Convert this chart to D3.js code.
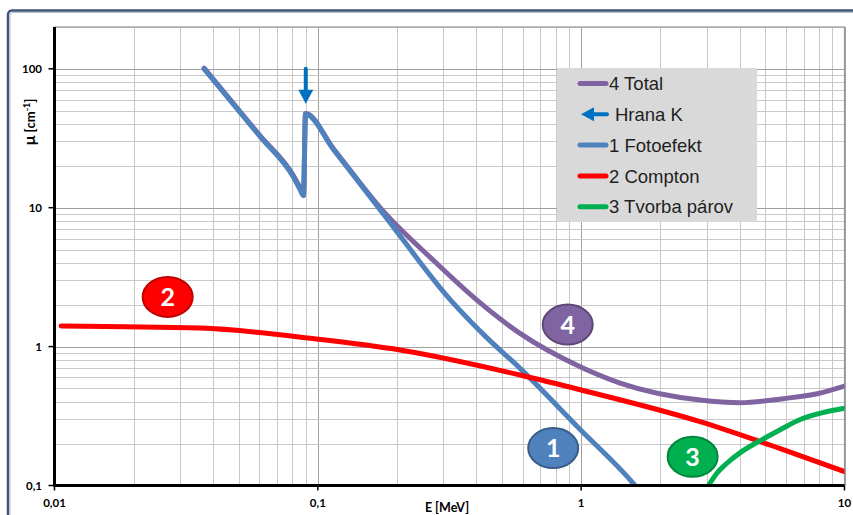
<!DOCTYPE html>
<html>
<head>
<meta charset="utf-8">
<script src="https://cdn.jsdelivr.net/npm/d3@7/dist/d3.min.js"></script>
<style>
  body { margin: 0; background: #fff; }
  svg { display: block; }
</style>
</head>
<body>
<svg id="chart" width="853" height="515"></svg>
<script>
// Attenuation coefficients of lead, μ [cm⁻¹] versus photon energy E [MeV]
const energyTotal = [0.037, 0.0604, 0.0808, 0.0855, 0.0882, 0.0898, 0.1146, 0.1774, 0.275, 0.402, 0.586, 0.991, 1.406, 2.83, 4.01, 5.85, 7.87, 10];
const muTotal     = [101, 32.9, 17.0, 14.0, 12.5, 47.6, 26.6, 9.4, 4.17, 2.16, 1.244, 0.716, 0.546, 0.412, 0.394, 0.422, 0.458, 0.52];

const energyKEdge = [0.09, 0.09];
const muKEdge     = [100, 56];

const energyPhoto = [0.037, 0.0604, 0.0808, 0.0855, 0.0882, 0.0898, 0.1146, 0.1774, 0.318, 0.432, 0.586, 1.0, 1.535, 1.6];
const muPhoto     = [100, 32.5, 16.6, 13.6, 12.2, 47.3, 26.3, 9.03, 2.18, 1.19, 0.697, 0.249, 0.1096, 0.1];

const energyCompton = [0.0106, 0.0357, 0.1, 0.2053, 0.586, 1.0, 2.83, 5.67, 10];
const muCompton     = [1.41, 1.36, 1.13, 0.944, 0.624, 0.487, 0.288, 0.185, 0.126];

const energyPair = [3.044, 3.277, 3.576, 4.018, 4.784, 5.70, 6.79, 8.32, 10];
const muPair     = [0.1, 0.1226, 0.1446, 0.1724, 0.2103, 0.2522, 0.2987, 0.3354, 0.3594];

const xTickValues = [0.01, 0.1, 1, 10];
const xTickLabels = ["0,01", "0,1", "1", "10"];
const yTickValues = [0.1, 1, 10, 100];
const yTickLabels = ["0,1", "1", "10", "100"];

const legendLabels = ["4 Total", "Hrana K", "1 Fotoefekt", "2 Compton", "3 Tvorba párov"];
const bubbleLabels = ["2", "4", "1", "3"];

// ---- layout ----
const svg = d3.select("#chart");
const plot = { left: 54.5, right: 844.5, top: 27, bottom: 485.5 };

const x = d3.scaleLog().domain([0.01, 10]).range([plot.left, plot.right]);
const y = d3.scaleLog().domain([0.1, 200]).range([plot.bottom, plot.top]);

const colors = {
  total: "#8064a2",
  kedge: "#0070c0",
  photo: "#4f81bd",
  compton: "#ff0000",
  pair: "#00b050"
};

// outer chart frame
svg.append("rect")
  .attr("x", 8).attr("y", 10.5).attr("width", 900).attr("height", 600).attr("rx", 4)
  .attr("fill", "#fff").attr("stroke", "#3f5573").attr("stroke-width", 2.5);
svg.append("rect")
  .attr("x", 10).attr("y", 12.5).attr("width", 900).attr("height", 600).attr("rx", 3)
  .attr("fill", "none").attr("stroke", "#b4bfcc").attr("stroke-width", 1);

// gridlines (major and minor on both log axes)
function logSteps(lo, hi) {
  const out = [];
  for (let e = Math.floor(Math.log10(lo)); e <= Math.ceil(Math.log10(hi)); e++) {
    for (let m = 1; m <= 9; m++) {
      const v = m * Math.pow(10, e);
      if (v >= lo * 0.999 && v <= hi * 1.001) out.push({ v, major: m === 1 });
    }
  }
  return out;
}
const grid = svg.append("g");
logSteps(0.01, 10).forEach(t => {
  grid.append("line")
    .attr("x1", Math.round(x(t.v)) + 0.5).attr("x2", Math.round(x(t.v)) + 0.5)
    .attr("y1", plot.top).attr("y2", plot.bottom)
    .attr("stroke", t.major ? "#a0a0a0" : "#c9c9c9").attr("stroke-width", 1);
});
logSteps(0.1, 200).forEach(t => {
  grid.append("line")
    .attr("y1", Math.round(y(t.v)) + 0.5).attr("y2", Math.round(y(t.v)) + 0.5)
    .attr("x1", plot.left).attr("x2", plot.right)
    .attr("stroke", t.major ? "#a0a0a0" : "#c9c9c9").attr("stroke-width", 1);
});
// plot area border
svg.append("rect")
  .attr("x", plot.left).attr("y", plot.top)
  .attr("width", plot.right - plot.left).attr("height", plot.bottom - plot.top)
  .attr("fill", "none").attr("stroke", "#9a9a9a").attr("stroke-width", 1.2);

// clip for series
svg.append("defs").append("clipPath").attr("id", "plotClip")
  .append("rect")
  .attr("x", plot.left).attr("y", plot.top - 10)
  .attr("width", plot.right - plot.left).attr("height", plot.bottom - plot.top + 10);

const line = d3.line()
  .x(d => x(d[0]))
  .y(d => y(d[1]))
  .curve(d3.curveMonotoneX);

const series = svg.append("g").attr("clip-path", "url(#plotClip)");
function drawSeries(es, ms, color) {
  series.append("path")
    .datum(d3.zip(es, ms))
    .attr("d", line)
    .attr("fill", "none")
    .attr("stroke", color)
    .attr("stroke-width", 5)
    .attr("stroke-linecap", "round")
    .attr("stroke-linejoin", "round");
}
drawSeries(energyTotal, muTotal, colors.total);

// K-edge arrow
(function () {
  const ax = x(energyKEdge[0]);
  const yTop = y(muKEdge[0]);
  const yTip = y(muKEdge[1]);
  const headLen = 14, headHalf = 7.5;
  series.append("line")
    .attr("x1", ax).attr("x2", ax)
    .attr("y1", yTop).attr("y2", yTip - headLen + 1)
    .attr("stroke", colors.kedge).attr("stroke-width", 4).attr("stroke-linecap", "round");
  series.append("path")
    .attr("d", `M${ax - headHalf},${yTip - headLen} L${ax + headHalf},${yTip - headLen} L${ax},${yTip} Z`)
    .attr("fill", colors.kedge);
})();

drawSeries(energyPhoto, muPhoto, colors.photo);
drawSeries(energyCompton, muCompton, colors.compton);
drawSeries(energyPair, muPair, colors.pair);

// axes
const axisFont = "Lato, 'Open Sans', sans-serif";
svg.append("line")
  .attr("x1", plot.left).attr("x2", plot.left)
  .attr("y1", plot.top).attr("y2", plot.bottom + 1.5)
  .attr("stroke", "#000").attr("stroke-width", 3);
svg.append("line")
  .attr("x1", plot.left - 1.5).attr("x2", plot.right)
  .attr("y1", plot.bottom).attr("y2", plot.bottom)
  .attr("stroke", "#000").attr("stroke-width", 3);

yTickValues.forEach((v, i) => {
  const py = y(v);
  svg.append("line")
    .attr("x1", plot.left - 6).attr("x2", plot.left)
    .attr("y1", py).attr("y2", py)
    .attr("stroke", "#000").attr("stroke-width", 1.5);
  svg.append("text")
    .attr("x", 42).attr("y", py).attr("dy", "0.36em")
    .attr("text-anchor", "end")
    .attr("font-family", axisFont).attr("font-weight", "bold").attr("font-size", 11.5)
    .attr("fill", "#000")
    .text(yTickLabels[i]);
});
xTickValues.forEach((v, i) => {
  const px = x(v);
  svg.append("line")
    .attr("x1", px).attr("x2", px)
    .attr("y1", plot.bottom).attr("y2", plot.bottom + 5)
    .attr("stroke", "#000").attr("stroke-width", 1.5);
  svg.append("text")
    .attr("x", px).attr("y", 507)
    .attr("text-anchor", "middle")
    .attr("font-family", axisFont).attr("font-weight", "bold").attr("font-size", 11.5)
    .attr("fill", "#000")
    .text(xTickLabels[i]);
});

// axis titles
svg.append("text")
  .attr("x", 447).attr("y", 512)
  .attr("text-anchor", "middle")
  .attr("font-family", axisFont).attr("font-weight", "bold").attr("font-size", 12.5)
  .text("E [MeV]");

const yTitle = svg.append("text")
  .attr("transform", "translate(35,122) rotate(-90)")
  .attr("text-anchor", "middle")
  .attr("font-family", axisFont).attr("font-weight", "bold").attr("font-size", 13);
yTitle.append("tspan").attr("font-size", 16).text("μ");
yTitle.append("tspan").text("  [cm");
yTitle.append("tspan").attr("font-size", 9).attr("dy", -5).text("-1");
yTitle.append("tspan").attr("dy", 5).text("]");

// legend
const legend = svg.append("g");
legend.append("rect")
  .attr("x", 557).attr("y", 68).attr("width", 200).attr("height", 154)
  .attr("fill", "#d9d9d9");
const legendColors = [colors.total, colors.kedge, colors.photo, colors.compton, colors.pair];
legendLabels.forEach((label, i) => {
  const ly = 83.5 + i * 30.8;
  if (i === 1) {
    legend.append("line")
      .attr("x1", 607).attr("x2", 592).attr("y1", ly).attr("y2", ly)
      .attr("stroke", legendColors[i]).attr("stroke-width", 4).attr("stroke-linecap", "round");
    legend.append("path")
      .attr("d", `M594,${ly - 7} L594,${ly + 7} L581,${ly} Z`)
      .attr("fill", legendColors[i]);
  } else {
    legend.append("line")
      .attr("x1", 580).attr("x2", 606).attr("y1", ly).attr("y2", ly)
      .attr("stroke", legendColors[i]).attr("stroke-width", 5).attr("stroke-linecap", "round");
  }
  legend.append("text")
    .attr("x", i === 1 ? 615 : 609).attr("y", ly).attr("dy", "0.36em")
    .attr("font-family", "'Liberation Sans', Arial, sans-serif").attr("font-size", 18.5)
    .attr("fill", "#1f1f1f")
    .text(label);
});

// numbered markers next to the curves
const bubbleSpec = [
  { e: 0.0269, m: 2.28, fill: "#ff0000", stroke: "#c00000" },
  { e: 0.889, m: 1.44, fill: "#8064a2", stroke: "#5c4776" },
  { e: 0.783, m: 0.186, fill: "#4f81bd", stroke: "#385d8a" },
  { e: 2.65, m: 0.161, fill: "#00b050", stroke: "#00873c" }
];
bubbleSpec.forEach((b, i) => {
  const cx = x(b.e), cy = y(b.m);
  svg.append("ellipse")
    .attr("cx", cx).attr("cy", cy).attr("rx", 25).attr("ry", 20)
    .attr("fill", b.fill).attr("stroke", b.stroke).attr("stroke-width", 2);
  svg.append("text")
    .attr("x", cx).attr("y", cy).attr("dy", "0.36em")
    .attr("text-anchor", "middle")
    .attr("font-family", axisFont).attr("font-weight", "bold").attr("font-size", 25)
    .attr("fill", "#fff")
    .text(bubbleLabels[i]);
});
</script>
</body>
</html>
